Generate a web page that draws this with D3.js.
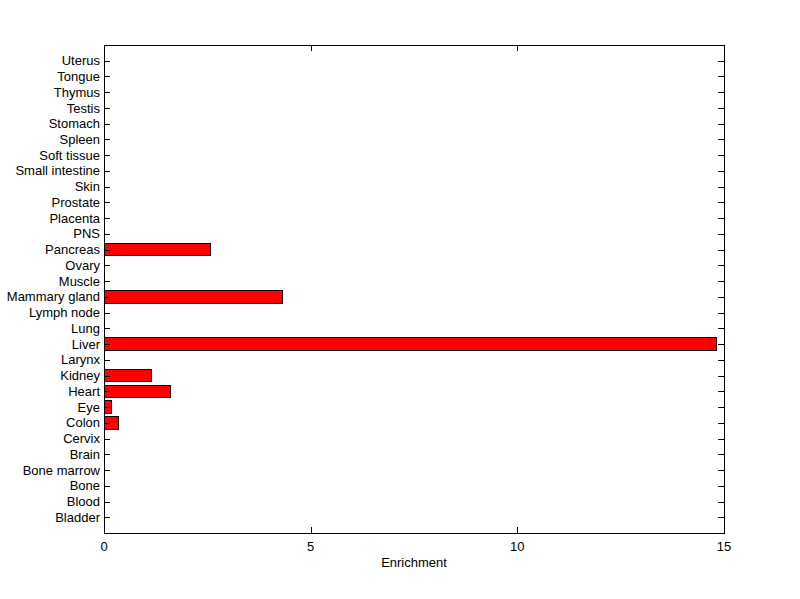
<!DOCTYPE html>
<html>
<head>
<meta charset="utf-8">
<script src="https://cdn.jsdelivr.net/npm/d3@7"></script>
<style>
  body { margin: 0; background: #fff; }
  text { font-family: "Liberation Sans", Arial, sans-serif; font-size: 13px; fill: #000; }
</style>
</head>
<body>
<svg id="chart" width="800" height="599"></svg>
<script>
// tissues, bottom to top
var tissues = ['Bladder', 'Blood', 'Bone', 'Bone marrow', 'Brain', 'Cervix', 'Colon', 'Eye',
  'Heart', 'Kidney', 'Larynx', 'Liver', 'Lung', 'Lymph node', 'Mammary gland', 'Muscle',
  'Ovary', 'Pancreas', 'PNS', 'Placenta', 'Prostate', 'Skin', 'Small intestine',
  'Soft tissue', 'Spleen', 'Stomach', 'Testis', 'Thymus', 'Tongue', 'Uterus'];
var enrichment = [0, 0, 0, 0, 0, 0, 0.36, 0.19,
  1.61, 1.15, 0, 14.82, 0, 0, 4.31, 0,
  0, 2.58, 0, 0, 0, 0, 0,
  0, 0, 0, 0, 0, 0, 0];
var xTicks = [0, 5, 10, 15];

// plot box (window.top is reserved, so use other names)
var boxL = 104, boxR = 724, boxT = 45, boxB = 533;
var TICK = 6;
var BAR_W = 0.8;

var svg = d3.select('#chart');

var x = d3.scaleLinear().domain([0, 15]).range([boxL, boxR]);
var y = d3.scaleLinear().domain([0, tissues.length + 1]).range([boxB, boxT]);

// bars
var rows = tissues.map(function (t, i) { return {name: t, value: enrichment[i], pos: i + 1}; });
svg.append('g').selectAll('rect').data(rows.filter(function (d) { return d.value > 0; }))
  .enter().append('rect')
  .attr('x', x(0))
  .attr('y', function (d) { return y(d.pos + BAR_W / 2); })
  .attr('width', function (d) { return x(d.value) - x(0); })
  .attr('height', function (d) { return y(d.pos - BAR_W / 2) - y(d.pos + BAR_W / 2); })
  .attr('fill', '#ff0000')
  .attr('stroke', '#000')
  .attr('stroke-width', 1)
  .attr('shape-rendering', 'crispEdges');

// axes (ticks pointing inward, matlab style)
var yPos = rows.map(function (d) { return d.pos; });
svg.append('g').attr('transform', 'translate(' + boxL + ',0)')
  .call(d3.axisRight(y).tickValues(yPos).tickSize(TICK).tickFormat(''))
  .call(function (g) { g.select('.domain').remove(); });
svg.append('g').attr('transform', 'translate(' + boxR + ',0)')
  .call(d3.axisLeft(y).tickValues(yPos).tickSize(TICK).tickFormat(''))
  .call(function (g) { g.select('.domain').remove(); });
svg.append('g').attr('transform', 'translate(0,' + boxB + ')')
  .call(d3.axisTop(x).tickValues(xTicks).tickSize(TICK).tickFormat(''))
  .call(function (g) { g.select('.domain').remove(); });
svg.append('g').attr('transform', 'translate(0,' + boxT + ')')
  .call(d3.axisBottom(x).tickValues(xTicks).tickSize(TICK).tickFormat(''))
  .call(function (g) { g.select('.domain').remove(); });
svg.selectAll('.tick line').attr('stroke', '#000').attr('shape-rendering', 'crispEdges');

// frame
svg.append('rect')
  .attr('x', boxL).attr('y', boxT)
  .attr('width', boxR - boxL).attr('height', boxB - boxT)
  .attr('fill', 'none').attr('stroke', '#000').attr('shape-rendering', 'crispEdges');

// labels
svg.append('g').selectAll('text').data(rows).enter().append('text')
  .attr('x', boxL - 4)
  .attr('y', function (d) { return y(d.pos); })
  .attr('dy', '0.35em')
  .attr('text-anchor', 'end')
  .text(function (d) { return d.name; });

svg.append('g').selectAll('text').data(xTicks).enter().append('text')
  .attr('x', function (d) { return x(d); })
  .attr('y', boxB + 18)
  .attr('text-anchor', 'middle')
  .text(function (d) { return d; });

svg.append('text')
  .attr('x', (boxL + boxR) / 2)
  .attr('y', boxB + 34)
  .attr('text-anchor', 'middle')
  .text('Enrichment');
</script>
</body>
</html>
